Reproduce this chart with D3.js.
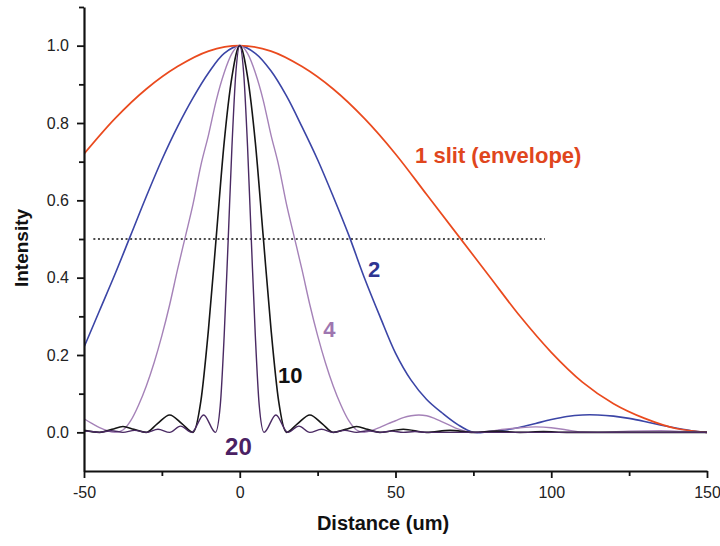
<!DOCTYPE html>
<html>
<head>
<meta charset="utf-8">
<title>N-slit diffraction</title>
<script src="https://cdn.jsdelivr.net/npm/d3@7"></script>
<style>
  body { margin: 0; background: #fff; }
  svg text { font-family: "Liberation Sans", Arial, sans-serif; }
</style>
</head>
<body>
<svg id="chart" width="720" height="546"></svg>
<script>
// values: [distance (um), intensity]
var slit1 = [[-50,0.72],[-40,0.812],[-30,0.888],[-20,0.946],[-10,0.986],[0,1.0],[10,0.986],[20,0.946],
  [30,0.888],[40,0.812],[50,0.72],[60,0.615],[70,0.51],[80,0.405],[90,0.30],[100,0.207],[110,0.13],
  [120,0.074],[130,0.036],[140,0.01],[150,0.0]];

var slit2 = [[-50,0.22],[-45,0.315],[-40,0.41],[-35,0.51],[-30,0.61],[-25,0.705],[-20,0.79],[-15,0.865],
  [-10,0.93],[-5,0.98],[0,1.0],[5,0.98],[10,0.935],[15,0.87],[20,0.79],[25,0.705],[30,0.61],[35,0.51],
  [40,0.40],[45,0.30],[50,0.205],[55,0.135],[60,0.085],[65,0.05],[70,0.02],[75,0.0],[80,0.002],[85,0.006],
  [90,0.013],[95,0.023],[100,0.033],[105,0.041],[110,0.045],[115,0.045],[120,0.042],[125,0.036],
  [130,0.028],[135,0.019],[140,0.011],[145,0.004],[150,0.0]];

var slit4 = [[-50,0.035],[-47.5,0.023],[-45,0.012],[-42.5,0.004],[-40,0.0],[-37.5,0.006],[-35,0.03],
  [-32.5,0.07],[-30,0.12],[-27.5,0.18],[-25,0.25],[-22.5,0.33],[-20,0.42],[-17.5,0.505],[-15,0.59],
  [-12.5,0.69],[-10,0.77],[-7.5,0.86],[-5,0.93],[-2.5,0.98],[0,1.0],[2.5,0.98],[5,0.93],[7.5,0.86],
  [10,0.77],[12.5,0.69],[15,0.59],[17.5,0.505],[20,0.42],[22.5,0.33],[25,0.25],[27.5,0.18],[30,0.12],
  [32.5,0.07],[35,0.03],[37.5,0.006],[40,0.0],[42.5,0.005],[45,0.013],[47.5,0.022],[50,0.03],[52.5,0.038],
  [55,0.043],[57.5,0.045],[60,0.043],[62.5,0.036],[65,0.027],[67.5,0.018],[70,0.009],[72.5,0.003],
  [75,0.0],[80,0.003],[85,0.008],[90,0.012],[95,0.014],[100,0.012],[105,0.006],[110,0.001],[115,0.0],
  [125,0.003],[135,0.004],[142,0.002],[150,0.0]];

var slit10 = [[-50,0.005],[-45,0.0],[-41,0.008],[-37.5,0.015],[-34,0.008],[-30,0.0],[-26.5,0.022],
  [-22.5,0.045],[-18.5,0.022],[-15,0.0],[-12.5,0.08],[-10,0.27],[-7.5,0.51],[-5,0.75],[-2.5,0.92],
  [0,1.0],[2.5,0.92],[5,0.75],[7.5,0.51],[10,0.27],[12.5,0.08],[15,0.0],[18.5,0.022],[22.5,0.045],
  [26.5,0.022],[30,0.0],[34,0.008],[37.5,0.015],[41,0.008],[45,0.0],[52.5,0.008],[60,0.0],[67.5,0.005],
  [75,0.0],[82.5,0.003],[90,0.0],[97.5,0.002],[105,0.0],[150,0.0]];

var slit20 = [[-50,0.002],[-48.75,0.003],[-45,0.0],[-41.25,0.004],[-37.5,0.0],[-33.75,0.005],[-30,0.0],
  [-26.25,0.008],[-22.5,0.0],[-19,0.016],[-15.4,0.0],[-11.6,0.045],[-7.8,0.0],[-6.25,0.07],[-5,0.25],
  [-3.75,0.49],[-2.5,0.74],[-1.25,0.93],[0,1.0],[1.25,0.93],[2.5,0.74],[3.75,0.49],[5,0.25],[6.25,0.07],
  [7.8,0.0],[11.6,0.045],[15.4,0.0],[19,0.016],[22.5,0.0],[26.25,0.008],[30,0.0],[33.75,0.005],
  [37.5,0.0],[41.25,0.004],[45,0.0],[48.75,0.003],[52.5,0.0],[56.25,0.002],[60,0.0],[150,0.0]];

var halfLine = [[-47, 0.5], [98, 0.5]];

var yTicks = [0, 0.2, 0.4, 0.6, 0.8, 1.0];
var yMinor = [0.1, 0.3, 0.5, 0.7, 0.9, 1.1];
var xTicks = [-50, 0, 50, 100, 150];
var xMinor = [-25, 25, 75, 125];

var svg = d3.select('#chart');
var x = d3.scaleLinear().domain([-50, 150]).range([84, 707]);
var y = d3.scaleLinear().domain([-0.1, 1.1]).range([471, 7]);

svg.append('defs').append('clipPath').attr('id', 'plot')
  .append('rect').attr('x', 84).attr('y', 7).attr('width', 623).attr('height', 464);

function lineWith(curve) {
  return d3.line()
    .x(function (d) { return x(d[0]); })
    .y(function (d) { return y(d[1]); })
    .curve(curve);
}

// dotted half-maximum line
svg.append('path')
  .attr('d', lineWith(d3.curveLinear)(halfLine))
  .attr('fill', 'none').attr('stroke', '#111').attr('stroke-width', 1.5)
  .attr('stroke-dasharray', '2,2.6');

var series = [
  { data: slit2, color: '#3b45a6', w: 1.6, curve: d3.curveCatmullRom },
  { data: slit1, color: '#ea4a1e', w: 1.7, curve: d3.curveCatmullRom },
  { data: slit4, color: '#a582b8', w: 1.4, curve: d3.curveMonotoneX },
  { data: slit10, color: '#151515', w: 1.6, curve: d3.curveMonotoneX },
  { data: slit20, color: '#4a2a63', w: 1.4, curve: d3.curveMonotoneX }
];

var g = svg.append('g').attr('clip-path', 'url(#plot)');
g.selectAll('path.curve').data(series).enter().append('path')
  .attr('class', 'curve')
  .attr('d', function (s) { return lineWith(s.curve)(s.data); })
  .attr('fill', 'none')
  .attr('stroke', function (s) { return s.color; })
  .attr('stroke-width', function (s) { return s.w; });

// axes
svg.append('g').attr('transform', 'translate(84,0)')
  .call(d3.axisLeft(y).tickValues(yTicks).tickFormat(d3.format('.1f')).tickSize(7).tickSizeOuter(0).tickPadding(8));
svg.append('g').attr('transform', 'translate(84,0)')
  .call(d3.axisLeft(y).tickValues(yMinor).tickFormat('').tickSize(5).tickSizeOuter(0))
  .select('.domain').remove();

svg.append('g').attr('transform', 'translate(0,471)')
  .call(d3.axisBottom(x).tickValues(xTicks).tickFormat(function (d) { return String(d); })
    .tickSize(7).tickSizeOuter(0).tickPadding(9));
svg.append('g').attr('transform', 'translate(0,471)')
  .call(d3.axisBottom(x).tickValues(xMinor).tickFormat('').tickSize(5).tickSizeOuter(0))
  .select('.domain').remove();

svg.selectAll('.domain').attr('stroke', '#111').attr('stroke-width', 2.2);
svg.selectAll('.tick line').attr('stroke', '#111').attr('stroke-width', 1.8);
svg.selectAll('.tick text')
  .attr('font-family', '"Liberation Sans", Arial, sans-serif')
  .attr('font-size', 16).attr('fill', '#222');

// axis titles
svg.append('text')
  .attr('transform', 'translate(28,248) rotate(-90)')
  .attr('text-anchor', 'middle')
  .attr('font-size', 19).attr('font-weight', 'bold').attr('fill', '#111')
  .text('Intensity');
svg.append('text')
  .attr('x', 383).attr('y', 530)
  .attr('text-anchor', 'middle')
  .attr('font-size', 20).attr('font-weight', 'bold').attr('fill', '#111')
  .text('Distance (um)');

// curve labels
var labels = [
  { text: '1 slit (envelope)', at: [56.3, 0.697], color: '#e0461d', size: 22 },
  { text: '2', at: [41.2, 0.402], color: '#2e3592', size: 22 },
  { text: '4', at: [26.8, 0.247], color: '#9e76b0', size: 22 },
  { text: '10', at: [12.3, 0.128], color: '#111', size: 22 },
  { text: '20', at: [-4.7, -0.058], color: '#4b2163', size: 24 }
];
svg.selectAll('text.lab').data(labels).enter().append('text')
  .attr('class', 'lab')
  .attr('x', function (d) { return x(d.at[0]); })
  .attr('y', function (d) { return y(d.at[1]); })
  .attr('font-size', function (d) { return d.size; })
  .attr('font-weight', 'bold')
  .attr('fill', function (d) { return d.color; })
  .text(function (d) { return d.text; });
</script>
</body>
</html>
